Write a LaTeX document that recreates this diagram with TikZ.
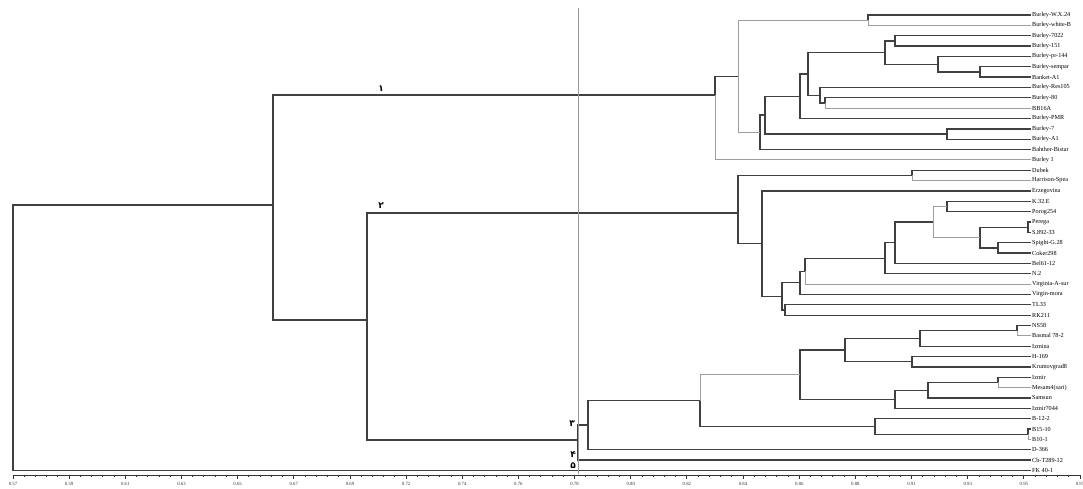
\documentclass[tikz,border=0pt]{standalone}
\usepackage{fontspec}
\setmainfont{Liberation Serif}
\newfontfamily\fadigits[Script=Arabic]{DejaVu Sans}
\usetikzlibrary{calc}

\begin{document}
\begin{tikzpicture}[x=1pt, y=-1pt,
	br/.style={draw=black!75, line width=1.3pt},
	brl/.style={draw=black!38, line width=0.9pt},
	leaf/.style={anchor=west, inner sep=1pt, font=\fontsize{6.2}{6.2}\selectfont},
	clabel/.style={inner sep=0pt, font=\fadigits\bfseries\fontsize{9}{9}\selectfont},
	ticklabel/.style={inner sep=0pt, text=black!80, font=\fontsize{4.8}{5}\selectfont}]
	\useasboundingbox (0,0) rectangle (1083,488);
	% leaves
	\path
	(1031,15) node[leaf] (l1) {Burley-W.X.24}
	++(0,10.35) node[leaf] (l2) {Burley-white-B}
	++(0,10.35) node[leaf] (l3) {Burley-7022}
	++(0,10.35) node[leaf] (l4) {Burley-151}
	++(0,10.35) node[leaf] (l5) {Burley-pr-144}
	++(0,10.35) node[leaf] (l6) {Burley-sempar}
	++(0,10.35) node[leaf] (l7) {Banket-A1}
	++(0,10.35) node[leaf] (l8) {Burley-Res105}
	++(0,10.35) node[leaf] (l9) {Burley-80}
	++(0,10.35) node[leaf] (l10) {BB16A}
	++(0,10.35) node[leaf] (l11) {Burley-PMR}
	++(0,10.35) node[leaf] (l12) {Burley-7}
	++(0,10.35) node[leaf] (l13) {Burley-A1}
	++(0,10.35) node[leaf] (l14) {Bahther-Bistar}
	++(0,10.35) node[leaf] (l15) {Burley 1}
	++(0,10.35) node[leaf] (l16) {Dubek}
	++(0,10.35) node[leaf] (l17) {Harrison-Spea}
	++(0,10.35) node[leaf] (l18) {Erzegovina}
	++(0,10.35) node[leaf] (l19) {K.32.E}
	++(0,10.35) node[leaf] (l20) {Porog254}
	++(0,10.35) node[leaf] (l21) {Perega}
	++(0,10.35) node[leaf] (l22) {S.892-33}
	++(0,10.35) node[leaf] (l23) {Spight-G.28}
	++(0,10.35) node[leaf] (l24) {Coker298}
	++(0,10.35) node[leaf] (l25) {Bel61-12}
	++(0,10.35) node[leaf] (l26) {N.2}
	++(0,10.35) node[leaf] (l27) {Virginia-A-sur}
	++(0,10.35) node[leaf] (l28) {Virgin-mora}
	++(0,10.35) node[leaf] (l29) {TL33}
	++(0,10.35) node[leaf] (l30) {RK211}
	++(0,10.35) node[leaf] (l31) {NS58}
	++(0,10.35) node[leaf] (l32) {Basmal 78-2}
	++(0,10.35) node[leaf] (l33) {Izmina}
	++(0,10.35) node[leaf] (l34) {H-169}
	++(0,10.35) node[leaf] (l35) {Krumovgrad8}
	++(0,10.35) node[leaf] (l36) {Izmir}
	++(0,10.35) node[leaf] (l37) {Mesam4(sari)}
	++(0,10.35) node[leaf] (l38) {Samsun}
	++(0,10.35) node[leaf] (l39) {Izmir7044}
	++(0,10.35) node[leaf] (l40) {B-12-2}
	++(0,10.35) node[leaf] (l41) {B15-10}
	++(0,10.35) node[leaf] (l42) {B10-1}
	++(0,10.35) node[leaf] (l43) {D-366}
	++(0,10.35) node[leaf] (l44) {Cb-T289-12}
	++(0,10.35) node[leaf] (l45) {FK 40-1}
	;
	% joins
	\path
	(868,20.2) coordinate (p0)
	(895,40.9) coordinate (p1)
	(980,71.9) coordinate (p2)
	(938,64.2) coordinate (p3)
	(885,52.5) coordinate (p4)
	(825,103) coordinate (p5)
	(820,95.2) coordinate (p6)
	(808,73.9) coordinate (p7)
	(800,96.2) coordinate (p8)
	(947,134) coordinate (p9)
	(765,115.1) coordinate (p10)
	(760,132.3) coordinate (p11)
	(738,76.2) coordinate (p12)
	(715,95) coordinate (p13)
	(912,175.4) coordinate (q8)
	(947,206.5) coordinate (q4)
	(1028,227.2) coordinate (q1)
	(998,247.9) coordinate (q2)
	(980,237.5) coordinate (q3)
	(933,222) coordinate (q5)
	(895,242.7) coordinate (q6)
	(885,258.2) coordinate (q7)
	(805,271.2) coordinate (q9)
	(800,282.8) coordinate (q10)
	(785,310) coordinate (q13)
	(782,296.4) coordinate (q11)
	(762,243.7) coordinate (q12)
	(738,213) coordinate (q14)
	(1017,330.7) coordinate (r1)
	(920,338.4) coordinate (r2)
	(912,361.7) coordinate (r3)
	(845,350) coordinate (r4)
	(998,382.4) coordinate (r5)
	(928,390.2) coordinate (r6)
	(895,399.2) coordinate (r7)
	(800,374.6) coordinate (r8)
	(1028,434.2) coordinate (r9)
	(875,426.4) coordinate (r10)
	(700,400.5) coordinate (r11)
	(588,425.1) coordinate (r12)
	(578,440) coordinate (r13)
	(367,320) coordinate (s1)
	(273,205) coordinate (s2)
	(13,340) coordinate (root)
	;
	% group 1
	\draw[br]
	(l1.west) -| (p0)
	(l3.west) -| (p1) |- (l4.west)
	(l6.west) -| (p2) |- (l7.west)
	(l5.west) -| (p3) |- (p2)
	(p1) -| (p4) |- (p3)
	(l9.west) -| (p5)
	(l8.west) -| (p6) |- (p5)
	(p4) -| (p7) |- (p6)
	(p7) -| (p8) |- (l11.west)
	(l12.west) -| (p9) |- (l13.west)
	(p8) -| (p10) |- (p9)
	(p10) -| (p11) |- (l14.west)
	(p12) -| (p13)
	;
	\draw[brl]
	(p0) |- (l2.west)
	(p5) |- (l10.west)
	(p0) -| (p12) |- (p11)
	(p13) |- (l15.west)
	;
	% group 2
	\draw[br]
	(l16.west) -| (q8)
	(l19.west) -| (q4) |- (l20.west)
	(l21.west) -| (q1) |- (l22.west)
	(l23.west) -| (q2) |- (l24.west)
	(q1) -| (q3) |- (q2)
	(q5) -| (q6) |- (l25.west)
	(q6) -| (q7) |- (l26.west)
	(q7) -| (q9)
	(q9) -| (q10) |- (l28.west)
	(l29.west) -| (q13) |- (l30.west)
	(q10) -| (q11) |- (q13)
	(l18.west) -| (q12) |- (q11)
	(q8) -| (q14) |- (q12)
	;
	\draw[brl]
	(q8) |- (l17.west)
	(q4) -| (q5) |- (q3)
	(q9) |- (l27.west)
	;
	% group 3
	\draw[br]
	(l31.west) -| (r1)
	(r1) -| (r2) |- (l33.west)
	(l34.west) -| (r3) |- (l35.west)
	(r2) -| (r4) |- (r3)
	(l36.west) -| (r5)
	(r5) -| (r6) |- (l38.west)
	(r6) -| (r7) |- (l39.west)
	(r4) -| (r8) |- (r7)
	(l41.west) -| (r9)
	(l40.west) -| (r10) |- (r9)
	(r11) |- (r10)
	(r11) -| (r12) |- (l43.west)
	(r12) -| (r13) |- (l44.west)
	(q14) -| (s1) |- (r13)
	(p13) -| (s2) |- (s1)
	(s2) -| (root) |- (l45.west)
	;
	\draw[brl]
	(r1) |- (l32.west)
	(r5) |- (l37.west)
	(r9) |- (l42.west)
	(r8) -| (r11)
	;
	% cut line and group numbers
	\draw[black!40, line width=0.7pt] (578,8) -- (578,474);
	\path
	(381,89) node[clabel] (c1) {۱}
	(381,206) node[clabel] (c2) {۲}
	(572,424) node[clabel] (c3) {۳}
	(573,455) node[clabel] (c4) {۴}
	(573,466) node[clabel] (c5) {۵}
	;
	% scale
	\draw[black!80, line width=1pt] (13,475) -- (1080,475);
	\foreach \v [count=\k from 0] in {0.57,0.59,0.61,0.63,0.65,0.67,0.69,0.72,0.74,0.76,0.78,0.80,0.82,0.84,0.86,0.88,0.91,0.93,0.95,0.97}
	{
		\draw[black!80, line width=0.9pt] ({13+\k*56.16},475) -- ++(0,4) node[ticklabel, below=2.5pt] (t\k) {\v};
	}
	\foreach \k in {0,...,94}
	{
		\draw[black!80, line width=0.9pt] ({13+\k*11.232},475) -- ++(0,2.2);
	}
\end{tikzpicture}
\end{document}
